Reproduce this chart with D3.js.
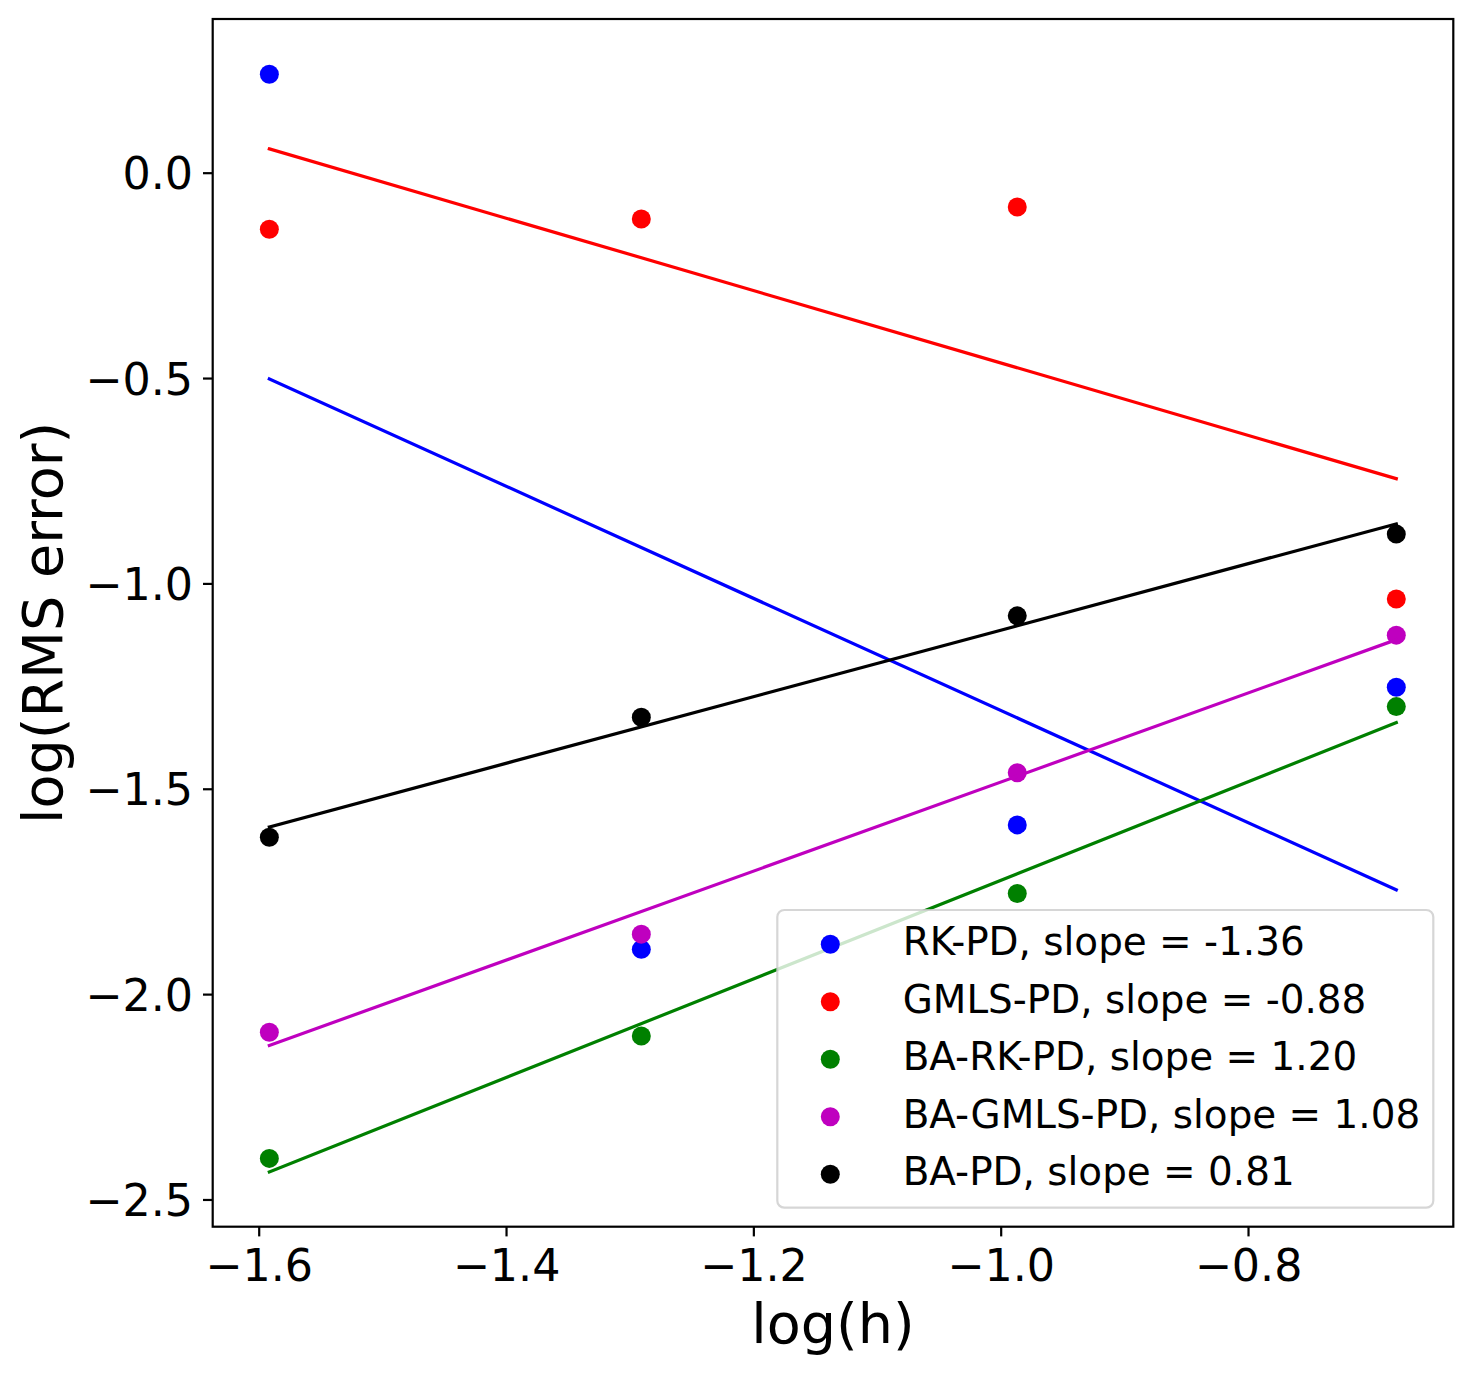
<!DOCTYPE html>
<html>
<head>
<meta charset="utf-8">
<script src="https://cdn.jsdelivr.net/npm/d3@7"></script>
<style>
  body { margin: 0; background: #fff; }
  text { font-family: "DejaVu Sans", sans-serif; }
</style>
</head>
<body>
<div id="plot"></div>
<script>
// data
var logH = [-1.5914, -1.2906, -0.9866, -0.6801];

var seriesNames = ["RK-PD", "GMLS-PD", "BA-RK-PD", "BA-GMLS-PD", "BA-PD"];
var slopeLabels = ["-1.36", "-0.88", "1.20", "1.08", "0.81"];
var seriesColors = ["#0000ff", "#ff0000", "#008000", "#bf00bf", "#000000"];

var rkPD     = [0.2396, -1.891, -1.588, -1.253];
var gmlsPD   = [-0.1378, -0.1127, -0.0835, -1.038];
var baRkPD   = [-2.400, -2.102, -1.755, -1.300];
var baGmlsPD = [-2.093, -1.854, -1.461, -1.126];
var baPD     = [-1.618, -1.326, -1.079, -0.880];
var allValues = [rkPD, gmlsPD, baRkPD, baGmlsPD, baPD];

// fitted line ends (at first and last log(h))
var fitStart = [-0.502, 0.058, -2.433, -2.125, -1.593];
var fitEnd   = [-1.746, -0.745, -1.339, -1.137, -0.855];

var xTicks = [-1.6, -1.4, -1.2, -1.0, -0.8];
var yTicks = [0.0, -0.5, -1.0, -1.5, -2.0, -2.5];

// plot geometry
var W = 1472, H = 1375;
var box = {left: 212.7, right: 1453.3, top: 19, bottom: 1226.7};

var svg = d3.select("#plot")
  .append("svg")
    .attr("width", W)
    .attr("height", H);

var x = d3.scaleLinear()
    .domain([-1.6372, -0.6340])
    .range([box.left, box.right]);

var y = d3.scaleLinear()
    .domain([-2.5663, 0.3742])
    .range([box.bottom, box.top]);

var fmt = function(d) { return d3.format(".1f")(d).replace("-", "\u2212"); };

// x axis
var xAxis = svg.append("g")
    .attr("transform", "translate(0," + box.bottom + ")")
    .call(d3.axisBottom(x).tickValues(xTicks).tickFormat(fmt).tickSize(9.7).tickPadding(13));

// y axis
var yAxis = svg.append("g")
    .attr("transform", "translate(" + box.left + ",0)")
    .call(d3.axisLeft(y).tickValues(yTicks).tickFormat(fmt).tickSize(9.7).tickPadding(10));

[xAxis, yAxis].forEach(function(a) {
  a.select(".domain").remove();
  a.selectAll(".tick line").attr("stroke", "#000").attr("stroke-width", 2.2);
  a.selectAll(".tick text")
    .attr("fill", "#000")
    .style("font-family", "'DejaVu Sans', sans-serif")
    .style("font-size", "44.4px");
});
yAxis.selectAll(".tick text").attr("dy", "0.36em");

// points (collections sit below lines)
allValues.forEach(function(vals, i) {
  svg.append("g")
    .selectAll("circle")
    .data(vals)
    .enter()
    .append("circle")
      .attr("cx", function(d, j) { return x(logH[j]); })
      .attr("cy", function(d) { return y(d); })
      .attr("r", 9.5)
      .attr("fill", seriesColors[i]);
});

// fit lines
var xFirst = logH[0], xLast = logH[logH.length - 1];
seriesNames.forEach(function(name, i) {
  svg.append("line")
    .attr("x1", x(xFirst))
    .attr("y1", y(fitStart[i]))
    .attr("x2", x(xLast))
    .attr("y2", y(fitEnd[i]))
    .attr("stroke", seriesColors[i])
    .attr("stroke-width", 3.2)
    .attr("stroke-linecap", "square");
});

// frame
svg.append("rect")
  .attr("x", box.left)
  .attr("y", box.top)
  .attr("width", box.right - box.left)
  .attr("height", box.bottom - box.top)
  .attr("fill", "none")
  .attr("stroke", "#000")
  .attr("stroke-width", 2.2);

// axis labels
svg.append("text")
  .attr("x", (box.left + box.right) / 2)
  .attr("y", 1343)
  .attr("text-anchor", "middle")
  .style("font-size", "55.6px")
  .text("log(h)");

svg.append("text")
  .attr("text-anchor", "middle")
  .attr("transform", "translate(61.7," + ((box.top + box.bottom) / 2) + ") rotate(-90)")
  .style("font-size", "55.6px")
  .text("log(RMS error)");

// legend
var lg = svg.append("g");
lg.append("rect")
  .attr("x", 777.3)
  .attr("y", 910)
  .attr("width", 1433.3 - 777.3)
  .attr("height", 1207.7 - 910)
  .attr("rx", 7)
  .attr("fill", "#fff")
  .attr("fill-opacity", 0.8)
  .attr("stroke", "#cccccc")
  .attr("stroke-opacity", 0.8)
  .attr("stroke-width", 2.2);

var rowY0 = 944.3, rowStep = 57.5;
var rows = lg.selectAll("g.row")
  .data(seriesNames)
  .enter()
  .append("g")
    .attr("class", "row")
    .attr("transform", function(d, i) { return "translate(0," + (rowY0 + i * rowStep) + ")"; });

rows.append("circle")
  .attr("cx", 830.3)
  .attr("cy", 0)
  .attr("r", 9.5)
  .attr("fill", function(d, i) { return seriesColors[i]; });

rows.append("text")
  .attr("x", 902.7)
  .attr("y", 11)
  .style("font-size", "38.9px")
  .text(function(d, i) { return d + ", slope = " + slopeLabels[i]; });
</script>
</body>
</html>
